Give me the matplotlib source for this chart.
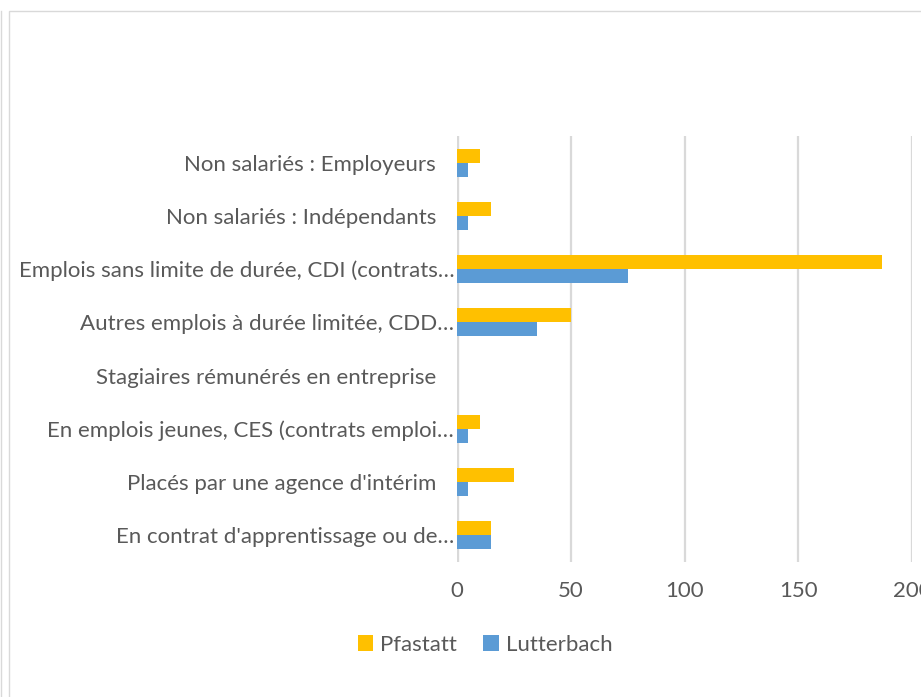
import numpy as np
import matplotlib
matplotlib.use("Agg")
import matplotlib.pyplot as plt
import matplotlib.transforms as mtrans
from matplotlib.patches import Rectangle

plt.rcParams["font.family"] = ["Lato", "DejaVu Sans"]

# categories listed bottom -> top (as drawn)
categories = [
    "En contrat d'apprentissage ou de…",
    "Placés par une agence d'intérim",
    "En emplois jeunes, CES (contrats emploi…",
    "Stagiaires rémunérés en entreprise",
    "Autres emplois à durée limitée, CDD…",
    "Emplois sans limite de durée, CDI (contrats…",
    "Non salariés : Indépendants",
    "Non salariés : Employeurs",
]
pfastatt = [15, 25, 10, 0, 50, 187, 15, 10]
lutterbach = [15, 5, 5, 0, 35, 75, 5, 5]
x_ticks = [0, 50, 100, 150, 200]

YELLOW = "#FFC000"
BLUE = "#5B9BD5"
GREY_TXT = "#595959"
GRID = "#D9D9D9"
FS = 16

fig = plt.figure(figsize=(9.21, 6.97), dpi=100)
ax = fig.add_axes([457 / 921, 1 - 562 / 697, (912 - 457) / 921, (562 - 136) / 697])

y = np.arange(len(categories))
h = 0.263
ax.barh(y + h / 2, pfastatt, height=h, color=YELLOW, label="Pfastatt", zorder=3)
ax.barh(y - h / 2, lutterbach, height=h, color=BLUE, label="Lutterbach", zorder=3)

ax.set_xlim(0, 200)
ax.set_ylim(-0.5, len(categories) - 0.5)
ax.set_xticks(x_ticks)
ax.set_xticklabels([str(t) for t in x_ticks])
ax.set_yticks(y)
ax.set_yticklabels(categories)
ax.tick_params(axis="both", length=0, labelsize=FS, colors=GREY_TXT)
ax.tick_params(axis="x", pad=14)
ax.tick_params(axis="y", pad=2)
ax.grid(axis="x", color=GRID, lw=1.6, zorder=0)
for s in ax.spines.values():
    s.set_visible(False)
ax.axvline(0, color=GRID, lw=2.4, zorder=1)

# full (non-truncated) labels sit a bit further left, as in the original Excel chart
shift = mtrans.ScaledTranslation(-18 / 100, 0, fig.dpi_scale_trans)
for lab in ax.get_yticklabels():
    if not lab.get_text().endswith("…"):
        lab.set_transform(lab.get_transform() + shift)

leg = fig.legend(loc="center", bbox_to_anchor=(485 / 921, 1 - 645 / 697), ncol=2,
                 frameon=False, fontsize=FS, handlelength=0.7, handleheight=0.7,
                 handletextpad=0.3, columnspacing=1.2)
for t in leg.get_texts():
    t.set_color(GREY_TXT)

# chart frame
fig.patches.append(Rectangle((9 / 921, -0.01), 1.0, 1 - 11 / 697 + 0.01,
                             transform=fig.transFigure, fill=False,
                             edgecolor=GRID, lw=1.0))
fig.lines.append(plt.Line2D([1 / 921, 1 / 921], [0, 1 - 11 / 697],
                            transform=fig.transFigure, color=GRID, lw=1.0))

fig.savefig("out.png", dpi=100)
